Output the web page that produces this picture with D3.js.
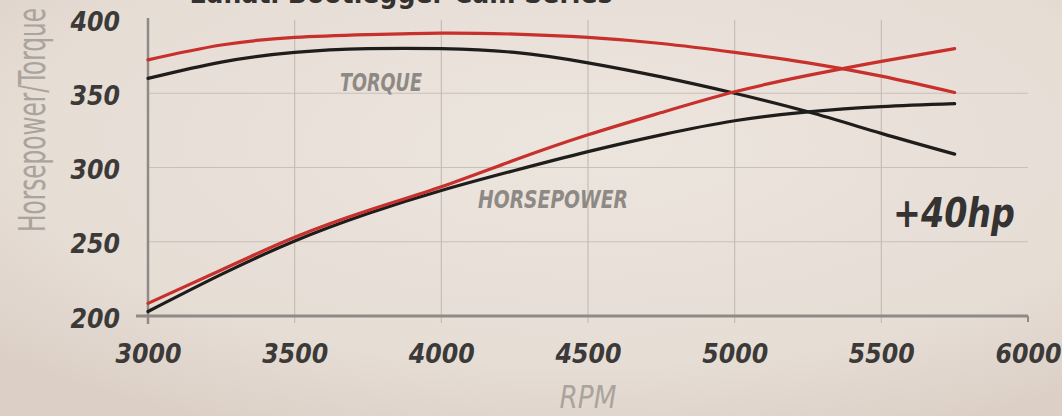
<!DOCTYPE html>
<html>
<head>
<meta charset="utf-8">
<script src="https://cdn.jsdelivr.net/npm/d3@7"></script>
<style>
  html, body { margin: 0; padding: 0; background: #e8e0d8; }
  svg { display: block; }
</style>
</head>
<body>
<div id="chart"></div>
<script>
const W = 1062, H = 416;

// rpm samples
const rpm = [3000, 3250, 3500, 3750, 4000, 4250, 4500, 4750, 5000, 5250, 5500, 5750];
// Lunati cam (red) vs stock (black)
const torqueCam   = [372.5, 382.5, 387.6, 389.5, 390.5, 389.8, 387.6, 383.5, 377.5, 370.5, 361.5, 350.5];
const torqueStock = [360, 371, 377.5, 380, 380, 377.5, 370.5, 361, 350, 337.5, 323, 309];
const hpCam       = [208.5, 231, 253, 271, 287, 305, 322, 337, 351, 362, 371.5, 380];
const hpStock     = [203, 228, 250.5, 269, 284.5, 298, 310.7, 322, 331.5, 337.5, 341, 343];

const xTicks = [3000, 3500, 4000, 4500, 5000, 5500, 6000];
const yTicks = [200, 250, 300, 350, 400];

const x = d3.scaleLinear().domain([3000, 6000]).range([148, 1028]);
const y = d3.scaleLinear().domain([200, 400]).range([316, 19]);

const svg = d3.select("#chart").append("svg")
    .attr("width", W)
    .attr("height", H);

// paper-ish background
const defs = svg.append("defs");
const grad = defs.append("radialGradient").attr("id", "paper")
    .attr("cx", "55%").attr("cy", "35%").attr("r", "75%");
grad.append("stop").attr("offset", "0%").attr("stop-color", "#ece5de");
grad.append("stop").attr("offset", "70%").attr("stop-color", "#e6ddd5");
grad.append("stop").attr("offset", "100%").attr("stop-color", "#dcd0c6");
svg.append("rect").attr("width", W).attr("height", H).attr("fill", "url(#paper)");

// title, mostly cut off by the top edge
svg.append("text")
    .attr("x", 401).attr("y", 3)
    .attr("text-anchor", "middle")
    .attr("textLength", 423).attr("lengthAdjust", "spacingAndGlyphs")
    .style("font-family", "DejaVu Sans")
    .style("font-weight", "bold")
    .style("font-size", "28px")
    .style("fill", "#34312f")
    .text("Lunati Bootlegger Cam Series");

// grid
svg.append("g").selectAll("line")
    .data(yTicks.filter(d => d > 200 && d < 400))
    .join("line")
    .attr("x1", x(3000)).attr("x2", x(6000))
    .attr("y1", d => y(d)).attr("y2", d => y(d))
    .style("stroke", "#c9c0b8")
    .style("stroke-width", 1.2);

svg.append("g").selectAll("line")
    .data(xTicks.filter(d => d > 3000 && d < 6000))
    .join("line")
    .attr("x1", d => x(d)).attr("x2", d => x(d))
    .attr("y1", y(400) + 1).attr("y2", y(200) + 7)
    .style("stroke", "#c6bdb5")
    .style("stroke-width", 1.2);

// axes lines
svg.append("line")
    .attr("x1", x(3000)).attr("x2", x(3000))
    .attr("y1", y(400) - 1).attr("y2", y(200) + 8)
    .style("stroke", "#8f8a85").style("stroke-width", 2.5);
svg.append("line")
    .attr("x1", x(3000) - 12).attr("x2", x(6000))
    .attr("y1", y(200)).attr("y2", y(200))
    .style("stroke", "#8f8a85").style("stroke-width", 3);
svg.append("line")
    .attr("x1", x(6000)).attr("x2", x(6000))
    .attr("y1", y(200)).attr("y2", y(200) + 6)
    .style("stroke", "#8f8a85").style("stroke-width", 2);

// tick labels through d3 axes
const tickFont = g => g.selectAll("text")
    .style("font-family", "'DejaVu Sans Condensed', 'DejaVu Sans'")
    .style("font-stretch", "condensed")
    .style("font-weight", "bold")
    .style("font-style", "italic")
    .style("font-size", "26px")
    .style("fill", "#3b3a39")
    .attr("lengthAdjust", "spacingAndGlyphs")
    .attr("textLength", d => String(d).length * 16.5);

const xAxis = svg.append("g")
    .attr("transform", `translate(0,${y(200)})`)
    .call(d3.axisBottom(x).tickValues(xTicks).tickSize(0).tickPadding(0).tickFormat(d3.format("d")));
xAxis.select(".domain").remove();
xAxis.selectAll("text").attr("y", 47).attr("dy", null);
xAxis.call(tickFont);

const yAxis = svg.append("g")
    .attr("transform", "translate(120,0)")
    .call(d3.axisLeft(y).tickValues(yTicks).tickSize(0).tickPadding(0).tickFormat(d3.format("d")));
yAxis.select(".domain").remove();
yAxis.selectAll("text").attr("x", 0).attr("dy", null).attr("y", 11);
yAxis.call(tickFont);

// axis titles: squeeze with a transform so the box matches what is drawn
function squeezed(txt, cx, cy, rot, targetW, size, italic) {
    const t = svg.append("text")
        .attr("text-anchor", "middle")
        .style("font-family", "'Liberation Sans Narrow', 'DejaVu Sans Condensed'")
        .style("font-style", italic ? "italic" : "normal")
        .style("font-size", size + "px")
        .style("fill", "#aaa49d")
        .text(txt);
    const natural = t.node().getComputedTextLength();
    const k = Math.min(1, targetW / natural);
    t.attr("transform", `translate(${cx},${cy}) rotate(${rot}) scale(${k},1)`);
    return t;
}
squeezed("Horsepower/Torque", 45, 120, -90, 224, 38, false);
squeezed("RPM", 588, 408, 0, 57, 32, true);

// curves
const line = vals => d3.line()
    .x((d, i) => x(rpm[i]))
    .y(d => y(d))
    .curve(d3.curveNatural)(vals);

const series = [
    { vals: hpStock, color: "#1f1d1c" },
    { vals: torqueStock, color: "#1f1d1c" },
    { vals: hpCam, color: "#c8302c" },
    { vals: torqueCam, color: "#c8302c" }
];

svg.append("g").selectAll("path")
    .data(series)
    .join("path")
    .attr("d", d => line(d.vals))
    .style("fill", "none")
    .style("stroke", d => d.color)
    .style("stroke-width", 3.2)
    .style("stroke-linecap", "round");

// curve labels
const labelStyle = sel => sel
    .style("font-family", "'DejaVu Sans Condensed', 'DejaVu Sans'")
    .style("font-stretch", "condensed")
    .style("font-weight", "bold")
    .style("font-style", "italic")
    .attr("lengthAdjust", "spacingAndGlyphs");

svg.append("text")
    .attr("x", 340).attr("y", 91)
    .attr("textLength", 82)
    .call(labelStyle)
    .style("font-size", "24px")
    .style("fill", "#8e8984")
    .text("TORQUE");

svg.append("text")
    .attr("x", 478).attr("y", 208)
    .attr("textLength", 150)
    .call(labelStyle)
    .style("font-size", "24px")
    .style("fill", "#8e8984")
    .text("HORSEPOWER");

svg.append("text")
    .attr("x", 893).attr("y", 227)
    .attr("textLength", 122)
    .call(labelStyle)
    .style("font-size", "40px")
    .style("fill", "#353332")
    .text("+40hp");
</script>
</body>
</html>
